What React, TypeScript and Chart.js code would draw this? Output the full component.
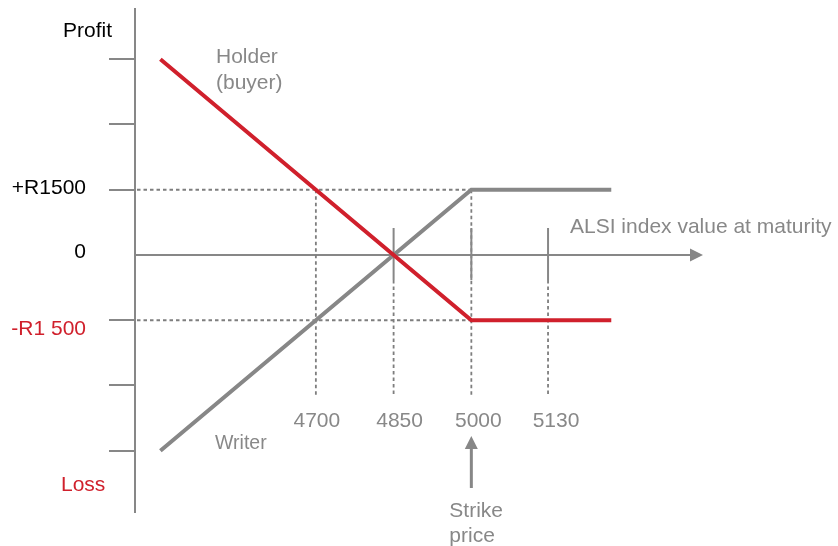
import React, { useEffect, useRef } from "react";
import { Chart, registerables } from "chart.js";

Chart.register(...registerables);

// ---- data ----
const indexValues = [4400, 5000, 5270];
const holderProfit = [4500, -1500, -1500];
const writerProfit = [-4500, 1500, 1500];
const profitTicks = [4500, 3000, 1500, -1500, -3000, -4500];
const xGuidePositions = [4700, 4850, 5000, 5148];
const xTickLabels = ["4700", "4850", "5000", "5130"];
const strikePrice = 5000;
const profitLevel = 1500;

const RED = "#d0202c";
const GRAY = "#878787";
const TEXT_GRAY = "#888888";
const FONT = "'Liberation Sans', Arial, Helvetica, sans-serif";

const decorPlugin = {
  id: "payoffDecor",
  beforeDatasetsDraw(chart: any) {
    const { ctx, chartArea, scales } = chart;
    const xs = scales.x;
    const ys = scales.y;
    const left = chartArea.left;
    const y0 = ys.getPixelForValue(0);
    ctx.save();
    ctx.strokeStyle = GRAY;
    ctx.fillStyle = GRAY;
    // y axis
    ctx.lineWidth = 2;
    ctx.beginPath();
    ctx.moveTo(left, chartArea.top);
    ctx.lineTo(left, chartArea.bottom);
    ctx.stroke();
    // y ticks
    profitTicks.forEach((v) => {
      const py = Math.round(ys.getPixelForValue(v));
      ctx.beginPath();
      ctx.moveTo(left - 26, py);
      ctx.lineTo(left, py);
      ctx.stroke();
    });
    // x axis with arrow
    const right = chartArea.right;
    ctx.beginPath();
    ctx.moveTo(left, y0);
    ctx.lineTo(right - 12, y0);
    ctx.stroke();
    ctx.beginPath();
    ctx.moveTo(right, y0);
    ctx.lineTo(right - 13, y0 - 6.5);
    ctx.lineTo(right - 13, y0 + 6.5);
    ctx.closePath();
    ctx.fill();
    // dashed guides
    const sx = xs.getPixelForValue(strikePrice);
    const yUp = ys.getPixelForValue(profitLevel);
    const yDn = ys.getPixelForValue(-profitLevel);
    const guideBottom = y0 + 141;
    ctx.strokeStyle = "#7e7e7e";
    ctx.lineWidth = 1.8;
    ctx.setLineDash([3.5, 3]);
    [yUp, yDn].forEach((py) => {
      ctx.beginPath();
      ctx.moveTo(left + 2, py);
      ctx.lineTo(sx, py);
      ctx.stroke();
    });
    xGuidePositions.forEach((v, i) => {
      const px = xs.getPixelForValue(v);
      const top = i === 0 || v === strikePrice ? yUp : y0 + 25;
      ctx.beginPath();
      ctx.moveTo(px, top);
      ctx.lineTo(px, guideBottom);
      ctx.stroke();
    });
    ctx.setLineDash([]);
    ctx.strokeStyle = GRAY;
    // solid x ticks
    ctx.lineWidth = 2;
    xGuidePositions.forEach((v, i) => {
      if (i === 0) return;
      const px = xs.getPixelForValue(v);
      ctx.beginPath();
      ctx.moveTo(px, y0 - 27);
      ctx.lineTo(px, y0 + 25);
      ctx.stroke();
    });
    // strike arrow
    const tip = y0 + 181;
    ctx.lineWidth = 3;
    ctx.beginPath();
    ctx.moveTo(sx, y0 + 233);
    ctx.lineTo(sx, tip + 10);
    ctx.stroke();
    ctx.beginPath();
    ctx.moveTo(sx, tip);
    ctx.lineTo(sx - 6.5, tip + 13);
    ctx.lineTo(sx + 6.5, tip + 13);
    ctx.closePath();
    ctx.fill();
    ctx.restore();
  },
  afterDraw(chart: any) {
    const { ctx, scales } = chart;
    const xs = scales.x;
    const ys = scales.y;
    const y0 = ys.getPixelForValue(0);
    const yUp = ys.getPixelForValue(profitLevel);
    const yDn = ys.getPixelForValue(-profitLevel);
    const sx = xs.getPixelForValue(strikePrice);
    ctx.save();
    ctx.textBaseline = "alphabetic";
    const t = (s: string, x: number, y: number, color: string, size: number, align: CanvasTextAlign = "left") => {
      ctx.font = `${size}px ${FONT}`;
      ctx.fillStyle = color;
      ctx.textAlign = align;
      ctx.fillText(s, x, y);
    };
    t("Profit", 63, 37, "#000", 21);
    t("+R1500", 86, yUp + 4, "#000", 21, "right");
    t("0", 86, y0 + 3, "#000", 21, "right");
    t("-R1 500", 86, yDn + 15, RED, 21, "right");
    t("Loss", 61, 491, RED, 21);
    t("Holder", 216, 63, TEXT_GRAY, 21);
    t("(buyer)", 216, 89, TEXT_GRAY, 21);
    t("Writer", 215, 449, TEXT_GRAY, 19.5);
    t("ALSI index value at maturity", 570, y0 - 22, TEXT_GRAY, 21);
    const offs = [1, 6, 7, 8];
    xGuidePositions.forEach((v, i) => {
      t(xTickLabels[i], xs.getPixelForValue(v) + offs[i], y0 + 172, TEXT_GRAY, 21, "center");
    });
    t("Strike", sx - 22, 517, TEXT_GRAY, 21);
    t("price", sx - 22, 542, TEXT_GRAY, 21);
    ctx.restore();
  },
};

export default function App() {
  const ref = useRef<HTMLCanvasElement | null>(null);
  useEffect(() => {
    document.body.style.margin = "0";
    const canvas = ref.current!;
    const chart = new Chart(canvas, {
      type: "line",
      data: {
        datasets: [
          {
            label: "Holder (buyer)",
            data: indexValues.map((x, i) => ({ x, y: holderProfit[i] })),
            borderColor: RED,
            borderWidth: 4,
            pointRadius: 0,
            tension: 0,
            borderJoinStyle: "miter",
            borderCapStyle: "butt",
            fill: false,
          },
          {
            label: "Writer",
            data: indexValues.map((x, i) => ({ x, y: writerProfit[i] })),
            borderColor: GRAY,
            borderWidth: 4,
            pointRadius: 0,
            tension: 0,
            borderJoinStyle: "miter",
            borderCapStyle: "butt",
            fill: false,
          },
        ],
      },
      options: {
        responsive: false,
        animation: false,
        devicePixelRatio: 1,
        layout: { padding: { left: 135, right: 135, top: 8, bottom: 33 } },
        plugins: { legend: { display: false }, tooltip: { enabled: false } },
        scales: {
          x: { type: "linear", min: 4351, max: 5447, display: false },
          y: { type: "linear", min: -5931, max: 5678, display: false },
        },
      },
      plugins: [decorPlugin],
    } as any);
    return () => chart.destroy();
  }, []);
  return <canvas ref={ref} width={838} height={546} style={{ display: "block", width: 838, height: 546 }} />;
}
